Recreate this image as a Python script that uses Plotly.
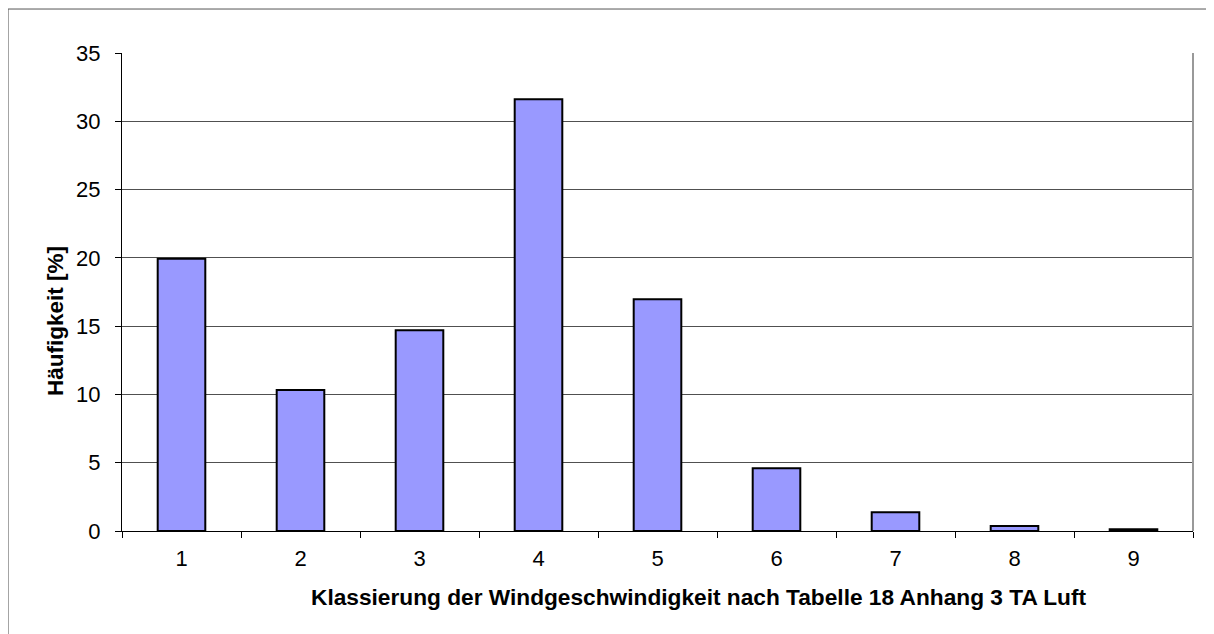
import plotly.graph_objects as go

categories = ["1", "2", "3", "4", "5", "6", "7", "8", "9"]
values = [19.93, 10.32, 14.7, 31.62, 16.96, 4.6, 1.37, 0.37, 0.12]
y_ticks = [0, 5, 10, 15, 20, 25, 30, 35]

x_title = "Klassierung der Windgeschwindigkeit nach Tabelle 18 Anhang 3 TA Luft"
y_title = "Häufigkeit [%]"

fig = go.Figure(go.Bar(
    x=categories, y=values,
    marker=dict(color="#9999FF", line=dict(color="#000000", width=2)),
    width=0.4,
))

font = "Liberation Sans, Arial, sans-serif"
fig.update_layout(
    width=1206, height=626,
    margin=dict(l=114, r=21, t=45, b=103),
    paper_bgcolor="white", plot_bgcolor="white",
    showlegend=False,
    font=dict(family=font, color="black", size=22),
    xaxis=dict(
        type="category", tickson="boundaries",
        ticks="outside", ticklen=6, tickcolor="black",
        showline=True, linecolor="black", linewidth=1,
        showgrid=False,
        tickfont=dict(size=22),
        ticklabelstandoff=8,
    ),
    yaxis=dict(
        range=[0, 35], tickvals=y_ticks,
        ticks="outside", ticklen=6, tickcolor="black",
        showline=True, linecolor="black", linewidth=1,
        showgrid=True, gridcolor="#505050", gridwidth=1,
        tickfont=dict(size=22),
        ticklabelstandoff=10,
        zeroline=False,
    ),
    annotations=[
        dict(text="<b>" + x_title + "</b>", xref="paper", yref="paper",
             x=0.539, y=-0.138, xanchor="center", yanchor="middle",
             showarrow=False, font=dict(size=22.7)),
        dict(text="<b>" + y_title + "</b>", xref="paper", yref="paper",
             x=-0.0626, y=0.439, xanchor="center", yanchor="middle",
             textangle=-90, showarrow=False, font=dict(size=22.5)),
    ],
    shapes=[
        dict(type="line", xref="paper", yref="paper", x0=1, x1=1, y0=0, y1=1,
             line=dict(color="#999999", width=2)),
        dict(type="rect", xref="paper", yref="paper", x0=-0.1064, x1=1.2, y0=-0.4, y1=1.092,
             line=dict(color="#555555", width=1), layer="below"),
    ],
)

fig.write_html("out.html")
